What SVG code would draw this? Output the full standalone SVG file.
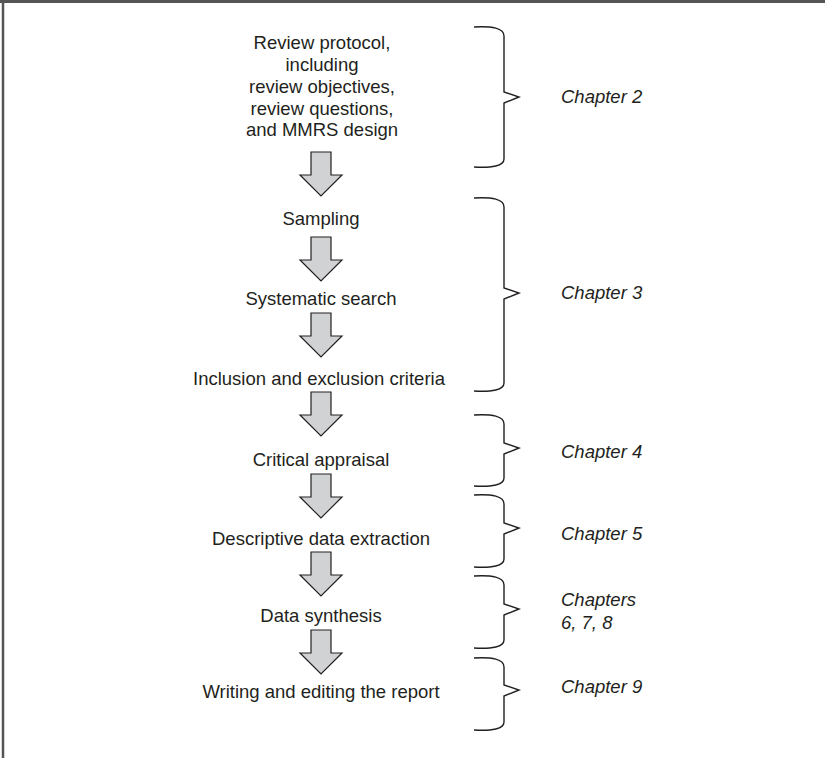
<svg xmlns="http://www.w3.org/2000/svg" width="825" height="758" viewBox="0 0 825 758">
<style>
.t{font-family:"Liberation Sans",Arial,Helvetica,sans-serif;font-size:18.5px;fill:#231f20;text-anchor:middle}
.c{font-family:"Liberation Sans",Arial,Helvetica,sans-serif;font-size:18.5px;font-style:italic;fill:#231f20}
.arr{fill:#d1d2d4;stroke:#231f20;stroke-width:1.2;stroke-linejoin:miter}
.br{fill:none;stroke:#231f20;stroke-width:1.4}
</style>
<defs>
<path id="arrow" class="arr" d="M-10 0 H10 V23 H21 L0 44 L-21 23 H-10 Z"/>
</defs>
<rect width="825" height="758" fill="#fff"/>
<line x1="0" y1="1.5" x2="825" y2="1.5" stroke="#555" stroke-width="3"/>
<line x1="3" y1="0" x2="3" y2="758" stroke="#555" stroke-width="2.5"/>

<g id="node-protocol">
<text class="t" x="322" y="49.2">Review protocol,</text>
<text class="t" x="322" y="71">including</text>
<text class="t" x="322" y="92.8">review objectives,</text>
<text class="t" x="322" y="114.6">review questions,</text>
<text class="t" x="322" y="136.4">and MMRS design</text>
</g>
<g id="node-sampling"><text class="t" x="321" y="225">Sampling</text></g>
<g id="node-search"><text class="t" x="321" y="305">Systematic search</text></g>
<g id="node-inclusion"><text class="t" x="319" y="385">Inclusion and exclusion criteria</text></g>
<g id="node-appraisal"><text class="t" x="321" y="466">Critical appraisal</text></g>
<g id="node-extraction"><text class="t" x="321" y="545">Descriptive data extraction</text></g>
<g id="node-synthesis"><text class="t" x="321" y="622">Data synthesis</text></g>
<g id="node-report"><text class="t" x="321" y="698">Writing and editing the report</text></g>

<g id="connectors">
<use href="#arrow" x="321" y="152"/>
<use href="#arrow" x="321" y="237"/>
<use href="#arrow" x="321" y="313"/>
<use href="#arrow" x="321" y="392"/>
<use href="#arrow" x="321" y="474"/>
<use href="#arrow" x="321" y="552"/>
<use href="#arrow" x="321" y="630"/>
</g>

<g id="braces">
<path class="br" d="M474 27 C492 26 504 28 504 36 V92 L519 97 L504 103 V159 C504 166 492 168 474 167"/>
<path class="br" d="M474 198 C492 197 504 199 504 207 V288 L519 293 L504 299 V383 C504 390 492 392 474 391"/>
<path class="br" d="M474 415 C492 414 504 416 504 424 V443 L519 448 L504 454 V478 C504 485 492 487 474 486"/>
<path class="br" d="M474 495 C492 494 504 496 504 504 V523 L519 528 L504 534 V559 C504 566 492 568 474 567"/>
<path class="br" d="M474 576 C492 575 504 577 504 585 V604 L519 609 L504 615 V640 C504 647 492 649 474 648"/>
<path class="br" d="M474 658 C492 657 504 659 504 667 V685 L519 690 L504 696 V722 C504 729 492 731 474 730"/>
</g>

<g id="labels">
<text class="c" x="561" y="103">Chapter 2</text>
<text class="c" x="561" y="299">Chapter 3</text>
<text class="c" x="561" y="458">Chapter 4</text>
<text class="c" x="561" y="540">Chapter 5</text>
<text class="c" x="561" y="606">Chapters</text>
<text class="c" x="561" y="629">6, 7, 8</text>
<text class="c" x="561" y="693">Chapter 9</text>
</g>
</svg>
